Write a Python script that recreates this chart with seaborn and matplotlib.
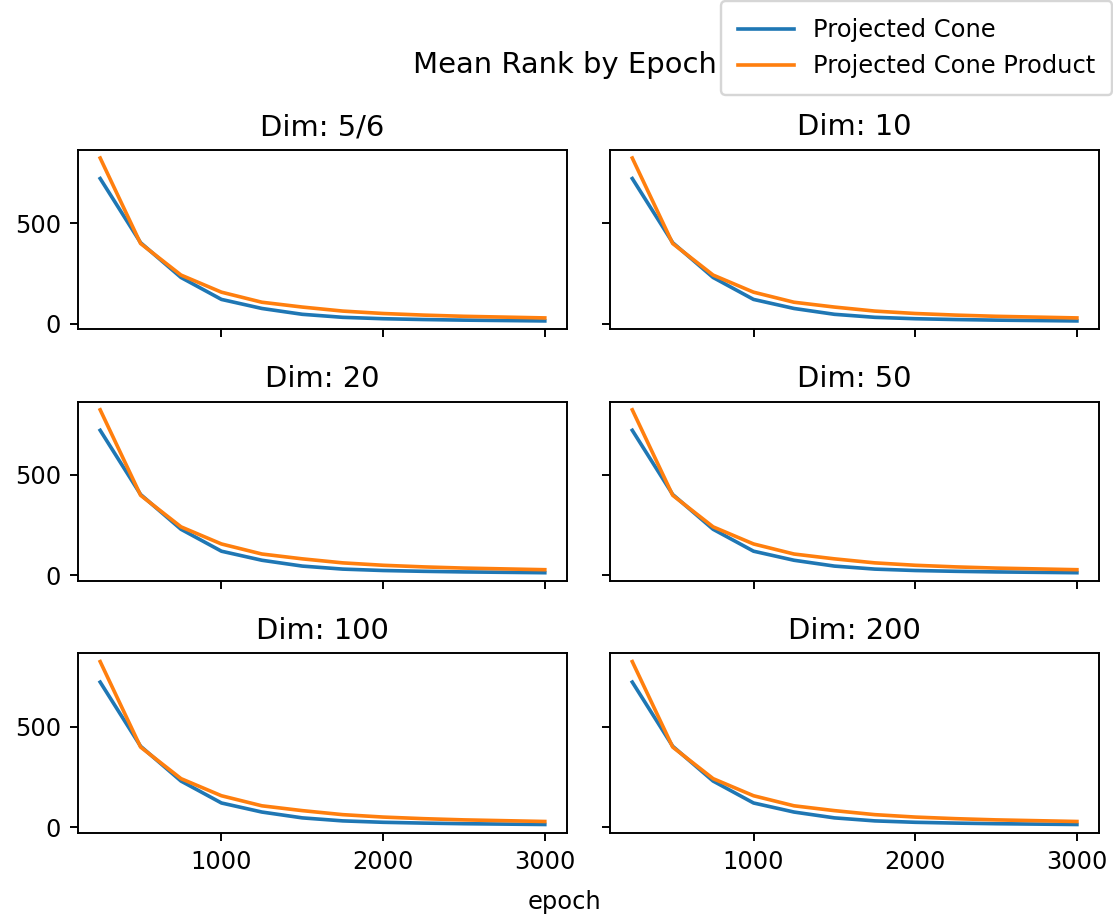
import pandas as pd
import seaborn as sns
import matplotlib
matplotlib.use("Agg")
import matplotlib.pyplot as plt

# data
epochs = [250, 500, 750, 1000, 1250, 1500, 1750, 2000, 2250, 2500, 2750, 3000]
dims = ["5/6", "10", "20", "50", "100", "200"]
cone = [721, 402, 229, 120, 75, 46, 31, 24, 20, 17, 15, 13]
cone_product = [823, 398, 241, 156, 106, 82, 62, 50, 42, 36, 32, 28]
models = ["Projected Cone", "Projected Cone Product"]

rows = []
for d in dims:
    for e, a, b in zip(epochs, cone, cone_product):
        rows.append({"dim": d, "epoch": e, "model": models[0], "mean_rank": a})
        rows.append({"dim": d, "epoch": e, "model": models[1], "mean_rank": b})
df = pd.DataFrame(rows)

fig, axes = plt.subplots(3, 2, sharex=True, sharey=True, figsize=(6.4, 5.253), dpi=174)
fig.subplots_adjust(left=0.070, right=0.987, top=0.836, bottom=0.089,
                    wspace=0.088, hspace=0.405)

for ax, d in zip(axes.flat, dims):
    sns.lineplot(data=df[df["dim"] == d], x="epoch", y="mean_rank", hue="model",
                 palette=["#1f77b4", "#ff7f0e"], ax=ax, legend=False)
    ax.set_title("Dim: " + d, fontsize=12)
    ax.set_xlabel("")
    ax.set_ylabel("")

axes[0, 0].set_xticks([1000, 2000, 3000])
axes[0, 0].set_yticks([0, 500])

handles = axes[0, 0].get_lines()[:2]
fig.legend(handles, models, loc="upper right", bbox_to_anchor=(1.0, 1.0),
           borderaxespad=0.05, borderpad=0.7, handlelength=2.3, fontsize=10)
fig.suptitle("Mean Rank by Epoch", fontsize=12, x=0.507, y=0.944)
fig.supxlabel("epoch", fontsize=10, x=0.507, y=0.0)

plt.savefig("out.png", dpi=174)
